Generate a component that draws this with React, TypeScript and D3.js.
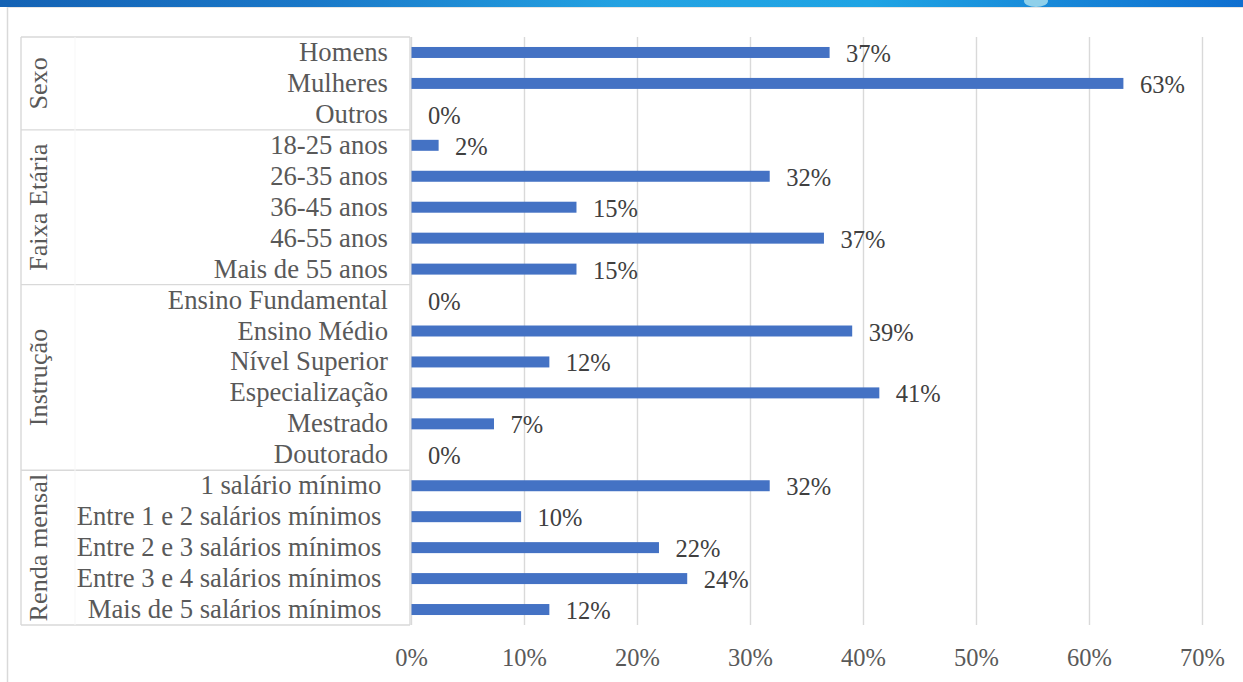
import React from "react";
import * as d3 from "d3";

const categories = [
  "Homens", "Mulheres", "Outros",
  "18-25 anos", "26-35 anos", "36-45 anos", "46-55 anos", "Mais de 55 anos",
  "Ensino Fundamental", "Ensino Médio", "Nível Superior", "Especialização", "Mestrado", "Doutorado",
  "1 salário mínimo ", "Entre 1 e 2 salários mínimos ", "Entre 2 e 3 salários mínimos ", "Entre 3 e 4 salários mínimos ", "Mais de 5 salários mínimos ",
];
const values = [
  37.0, 63.0, 0,
  2.4, 31.7, 14.6, 36.5, 14.6,
  0, 39.0, 12.2, 41.4, 7.3, 0,
  31.7, 9.7, 21.9, 24.4, 12.2,
];
const groupNames = ["Sexo", "Faixa Etária", "Instrução", "Renda mensal"];
const groupSizes = [3, 5, 6, 5];
const xTicks = [0, 10, 20, 30, 40, 50, 60, 70];

const W = 1243;
const H = 682;
const FONT = "Liberation Serif, Tinos, Times New Roman, Times, DejaVu Serif, serif";

export default function App() {
  const x = d3.scaleLinear().domain([0, 70]).range([411.5, 1202.5]);
  const y = d3
    .scaleBand<number>()
    .domain(d3.range(categories.length))
    .range([37, 625])
    .paddingInner(0.645)
    .paddingOuter(0.3225);
  const step = y.step();
  const rowCenter = (i: number) => (y(i) as number) + y.bandwidth() / 2;

  const boxLeft = 21;
  const boxRight = x(0) - 1.5;
  const groupStarts = groupSizes.map((_, gi) => d3.sum(groupSizes.slice(0, gi)));
  const top = 37;
  const bottom = 625;
  const lineYs = [top, ...groupSizes.map((_, gi) => top + (groupStarts[gi] + groupSizes[gi]) * step)];

  const txt = (size: number, fill: string) => ({
    fontFamily: FONT,
    fontSize: size,
    fill,
  });

  return (
    <svg
      width={W}
      height={H}
      style={{ position: "absolute", left: 0, top: 0, display: "block", background: "#fff" }}
    >
      <defs>
        <linearGradient id="banner" x1="0" x2="1" y1="0" y2="0">
          <stop offset="0" stopColor="#1462b4" />
          <stop offset="0.25" stopColor="#1a78c8" />
          <stop offset="0.5" stopColor="#23a2e2" />
          <stop offset="0.7" stopColor="#1fa4e4" />
          <stop offset="0.85" stopColor="#1788d8" />
          <stop offset="1" stopColor="#0f6fd0" />
        </linearGradient>
      </defs>
      {/* banner */}
      <rect x={0} y={0} width={W} height={7} fill="url(#banner)" />
      <ellipse cx={1036} cy={1} rx={12} ry={6} fill="#8fd0ea" />
      {/* outer frame */}
      <line x1={7.5} x2={7.5} y1={7} y2={H} stroke="#d9d9d9" strokeWidth={1.5} />
      <line x1={7.5} x2={W} y1={7.5} y2={7.5} stroke="#e6e6e6" strokeWidth={1} />

      {/* gridlines */}
      {xTicks.map((t) => (
        <line key={"g" + t} x1={x(t)} x2={x(t)} y1={top} y2={bottom} stroke="#d9d9d9" strokeWidth={1.4} />
      ))}

      {/* category box */}
      {lineYs.map((ly, i) => (
        <line key={"h" + i} x1={boxLeft} x2={boxRight} y1={ly} y2={ly} stroke="#d9d9d9" strokeWidth={1.4} />
      ))}
      <line x1={boxLeft} x2={boxLeft} y1={top} y2={bottom} stroke="#d9d9d9" strokeWidth={1.4} />
      <line x1={75} x2={75} y1={top} y2={bottom} stroke="#f7f7f7" strokeWidth={1} />
      <line x1={boxRight} x2={boxRight} y1={top} y2={bottom} stroke="#d9d9d9" strokeWidth={1.4} />

      {/* group labels */}
      {groupNames.map((g, gi) => {
        const cy = top + (groupStarts[gi] + groupSizes[gi] / 2) * step;
        return (
          <text
            key={g}
            transform={`translate(47,${cy}) rotate(-90)`}
            textAnchor="middle"
            style={txt(26.2, "#595959")}
          >
            {g}
          </text>
        );
      })}

      {/* category labels */}
      {categories.map((c, i) => (
        <text
          key={"c" + i}
          x={388}
          y={rowCenter(i) + 8.5}
          textAnchor="end"
          style={{ ...txt(26.7, "#595959"), whiteSpace: "pre" }}
        >
          {c}
        </text>
      ))}

      {/* bars */}
      {values.map((v, i) =>
        v > 0 ? (
          <rect
            key={"b" + i}
            x={x(0)}
            y={y(i)}
            width={x(v) - x(0)}
            height={y.bandwidth()}
            fill="#4472c4"
          />
        ) : null
      )}

      {/* value labels */}
      {values.map((v, i) => (
        <text key={"v" + i} x={x(v) + 16.5} y={rowCenter(i) + 9.5} style={txt(24.5, "#404040")}>
          {d3.format(".0f")(v) + "%"}
        </text>
      ))}

      {/* x tick labels */}
      {xTicks.map((t) => (
        <text key={"t" + t} x={x(t)} y={666} textAnchor="middle" style={txt(24.5, "#595959")}>
          {t + "%"}
        </text>
      ))}
    </svg>
  );
}
